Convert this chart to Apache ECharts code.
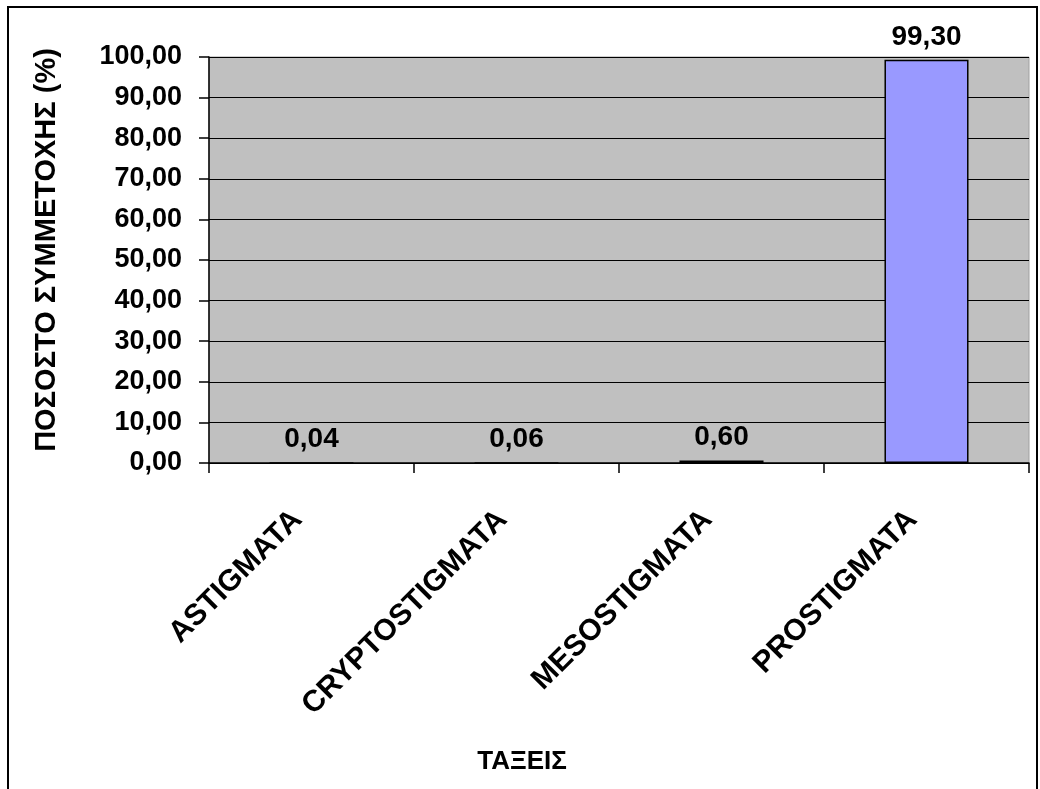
<!DOCTYPE html>
<html>
<head>
<meta charset="utf-8">
<script src="https://cdn.jsdelivr.net/npm/echarts@6/dist/echarts.min.js"></script>
<style>
  html, body { margin: 0; padding: 0; background: #fff; }
  #chart { width: 1040px; height: 789px; }
</style>
</head>
<body>
<div id="chart"></div>
<script>
// categories and values
const taxa = ["ASTIGMATA", "CRYPTOSTIGMATA", "MESOSTIGMATA", "PROSTIGMATA"];
const percent = [0.04, 0.06, 0.60, 99.30];
const yTicks = { min: 0, max: 100, step: 10 };

const font = "Liberation Sans, Arial, sans-serif";
const comma = (v) => Number(v).toFixed(2).replace(".", ",");

let myChart = echarts.init(document.getElementById("chart"));
myChart.setOption({
  backgroundColor: "#fff",
  animation: false,
  textStyle: { fontFamily: font, color: "#000" },
  grid: {
    left: 209,
    right: 11,
    top: 57,
    bottom: 326,
    show: true,
    backgroundColor: "#c0c0c0",
    borderColor: "#a0a0a0",
    borderWidth: 1,
  },
  xAxis: {
    type: "category",
    data: taxa,
    axisLine: { lineStyle: { color: "#000", width: 1.5 } },
    axisTick: { show: true, length: 10, lineStyle: { color: "#000", width: 1.5 } },
    axisLabel: {
      rotate: 45,
      margin: 38,
      interval: 0,
      padding: [0, 20, 0, 0],
      fontFamily: font,
      fontWeight: "bold",
      fontSize: 30,
      color: "#000",
    },
  },
  yAxis: {
    type: "value",
    min: yTicks.min,
    max: yTicks.max,
    interval: yTicks.step,
    axisLine: { show: true, lineStyle: { color: "#000", width: 1.5 } },
    axisTick: { show: true, length: 10, lineStyle: { color: "#000", width: 1.5 } },
    splitLine: { show: true, lineStyle: { color: "#000", width: 1.2 } },
    axisLabel: {
      margin: 27,
      formatter: comma,
      fontFamily: font,
      fontWeight: "bold",
      fontSize: 27,
      color: "#000",
    },
  },
  series: [
    {
      type: "bar",
      data: percent,
      barWidth: "41%",
      itemStyle: { color: "#9999ff", borderColor: "#000", borderWidth: 1.5 },
      label: {
        show: true,
        position: "top",
        distance: 9,
        formatter: (p) => comma(p.value),
        fontFamily: font,
        fontWeight: "bold",
        fontSize: 28,
        color: "#000",
      },
    },
  ],
  graphic: [
    {
      type: "rect",
      shape: { x: 8, y: 7, width: 1029, height: 800 },
      style: { fill: null, stroke: "#000", lineWidth: 2 },
      silent: true,
    },
    {
      type: "text",
      x: 47,
      y: 250,
      rotation: Math.PI / 2,
      style: {
        text: "ΠΟΣΟΣΤΟ ΣΥΜΜΕΤΟΧΗΣ (%)",
        font: "bold 29px " + font,
        fill: "#000",
        align: "center",
        verticalAlign: "middle",
      },
    },
    {
      type: "text",
      x: 522,
      y: 762,
      style: {
        text: "ΤΑΞΕΙΣ",
        font: "bold 26px " + font,
        fill: "#000",
        align: "center",
        verticalAlign: "middle",
      },
    },
  ],
});
</script>
</body>
</html>
